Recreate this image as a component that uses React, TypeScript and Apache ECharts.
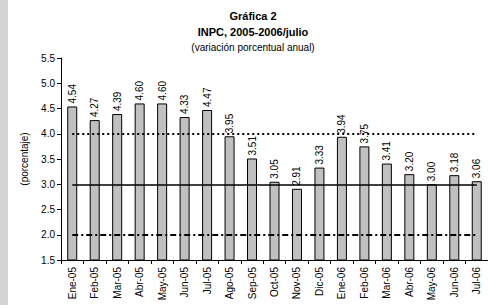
import React, { useEffect, useRef } from "react";
import * as echarts from "echarts";

const categories = ["Ene-05","Feb-05","Mar-05","Abr-05","May-05","Jun-05","Jul-05","Ago-05","Sep-05","Oct-05","Nov-05","Dic-05","Ene-06","Feb-06","Mar-06","Abr-06","May-06","Jun-06","Jul-06"];
const inpc = [4.54,4.27,4.39,4.60,4.60,4.33,4.47,3.95,3.51,3.05,2.91,3.33,3.94,3.75,3.41,3.20,3.00,3.18,3.06];
const targetLine = 3.0;
const upperLine = 4.0;
const lowerLine = 2.0;
const titleLines = ["Gráfica 2", "INPC, 2005-2006/julio", "(variación porcentual anual)"];

const FONT = "Arial, 'Liberation Sans', sans-serif";

export default function App() {
  const ref = useRef<HTMLDivElement>(null);
  useEffect(() => {
    if (!ref.current) return;
    const chart = echarts.init(ref.current, undefined, { renderer: "svg" });
    const first = categories[0];
    const last = categories[categories.length - 1];
    chart.setOption({
      animation: false,
      backgroundColor: "#ffffff",
      textStyle: { fontFamily: FONT },
      graphic: [
        { type: "rect", left: 0, top: 0, shape: { width: 8, height: 305 }, style: { fill: "#d4d4d4" }, silent: true },
        { type: "text", x: 253, y: 16, style: { text: titleLines[0], font: `bold 11px ${FONT}`, fill: "#000", align: "center", verticalAlign: "middle" } },
        { type: "text", x: 253, y: 32, style: { text: titleLines[1], font: `bold 11px ${FONT}`, fill: "#000", align: "center", verticalAlign: "middle" } },
        { type: "text", x: 253, y: 47, style: { text: titleLines[2], font: `10px ${FONT}`, fill: "#000", align: "center", verticalAlign: "middle" } },
      ],
      grid: { left: 61, top: 58, width: 436, height: 202, containLabel: false },
      xAxis: {
        type: "category",
        data: categories,
        boundaryGap: true,
        axisLine: { lineStyle: { color: "#000", width: 1 } },
        axisTick: { show: true, alignWithLabel: false, length: 4, lineStyle: { color: "#000" } },
        axisLabel: { rotate: 90, interval: 0, color: "#000", fontSize: 10, fontFamily: FONT, margin: 7 },
      },
      yAxis: {
        type: "value",
        min: 1.5,
        max: 5.5,
        interval: 0.5,
        name: "(porcentaje)",
        nameLocation: "middle",
        nameRotate: 90,
        nameGap: 32,
        nameTextStyle: { color: "#000", fontSize: 10, fontFamily: FONT },
        axisLine: { show: true, lineStyle: { color: "#000", width: 1 } },
        axisTick: { show: true, length: 4, lineStyle: { color: "#000" } },
        axisLabel: { color: "#000", fontSize: 10, fontFamily: FONT, margin: 6, formatter: (v: number) => v.toFixed(1) },
        splitLine: { show: false },
      },
      series: [
        {
          type: "bar",
          data: inpc,
          barWidth: 10,
          itemStyle: { color: "#c0c0c0", borderColor: "#000", borderWidth: 1 },
          label: {
            show: true,
            position: "top",
            rotate: 90,
            align: "left",
            verticalAlign: "middle",
            distance: 3,
            color: "#000",
            fontSize: 10,
            fontFamily: FONT,
            formatter: (p: any) => Number(p.value).toFixed(2),
          },
          markLine: {
            silent: true,
            symbol: "none",
            label: { show: false },
            data: [
              [{ coord: [first, upperLine], lineStyle: { type: [2, 3], width: 2, color: "#000" } }, { coord: [last, upperLine] }],
              [{ coord: [first, targetLine], lineStyle: { type: "solid", width: 1.5, color: "#000" } }, { coord: [last, targetLine] }],
              [{ coord: [first, lowerLine], lineStyle: { type: [6, 3, 2, 3], width: 2, color: "#000" } }, { coord: [last, lowerLine] }],
            ],
          },
          z: 2,
        },
      ],
    });
    return () => chart.dispose();
  }, []);
  return <div ref={ref} style={{ position: "absolute", left: 0, top: 0, width: 488, height: 305 }} />;
}
